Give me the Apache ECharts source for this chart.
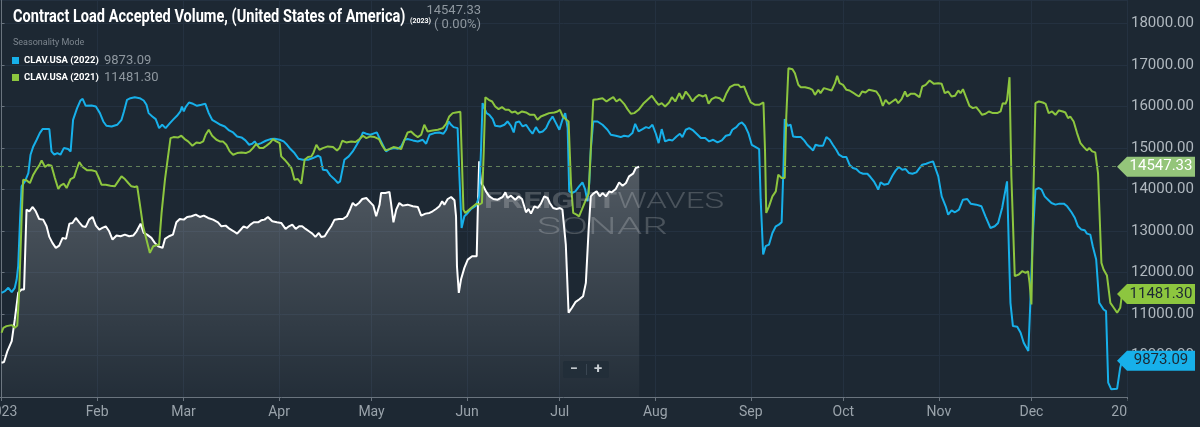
<!DOCTYPE html>
<html>
<head>
<meta charset="utf-8">
<style>
html,body{margin:0;padding:0;background:#1d2833;}
#chart{width:1200px;height:427px;}
</style>
<script src="https://cdn.jsdelivr.net/npm/echarts@6/dist/echarts.min.js"></script>
</head>
<body>
<div id="chart"></div>
<script>
// x axis: day of year (0 = Jan 1), labels at month starts
const monthDays = [0, 31, 59, 90, 120, 151, 181, 212, 243, 273, 304, 334, 365]
const monthNames = ['2023', 'Feb', 'Mar', 'Apr', 'May', 'Jun', 'Jul', 'Aug', 'Sep', 'Oct', 'Nov', 'Dec', '2024']

// 2023 (white, area)
const days2023 = [0,0.8,1.9,3.3,4.3,5.4,6.5,7.3,8.1,9.0,10.1,11.1,12.2,13.5,14.6,15.5,16.5,17.6,18.7,19.8,20.9,22.0,23.0,24.1,25.2,26.3,27.3,28.4,29.5,30.6,31.7,32.7,33.8,34.9,36.0,37.3,38.6,40.0,41.4,42.7,43.8,45.1,46.1,47.2,48.6,49.7,50.8,52.2,53.0,54.3,55.6,56.7,57.8,59.1,60.2,61.6,63.0,64.3,65.6,67.0,68.6,70.2,71.3,72.7,74.0,75.3,76.4,77.4,78.5,79.6,80.7,81.8,83.2,84.2,85.3,86.4,87.8,89.3,90.7,92.1,93.2,94.3,95.4,96.5,97.5,98.6,99.7,100.8,101.8,102.9,103.7,104.8,105.8,106.9,108.0,109.4,110.7,112.0,113.1,113.9,114.8,115.9,117.0,118.3,119.6,120.6,121.5,122.6,123.1,124.5,125.8,126.3,127.1,128.0,129.0,130.1,131.7,133.4,135.0,136.1,137.5,138.8,139.8,140.9,142.0,142.9,143.6,144.7,145.8,146.9,147.4,147.7,148.3,149.0,150.1,151.2,152.6,154.1,154.4,154.9,155.5,156.3,157.1,158.2,159.5,160.9,162.5,163.4,164.1,165.2,166.6,167.7,168.8,170.1,170.9,171.7,172.8,173.9,174.9,176.0,177.1,177.8,178.9,180.0,181.1,181.9,183.0,183.9,185.0,186.1,187.3,188.6,189.5,190.4,191.1,191.9,193.0,194.0,194.9,196.0,197.1,197.9,199.2,200.3,201.4,202.5,203.5,204.8,205.7,206.8]
const vals2023 = [9826,9842,10106,10347,10868,11509,11589,11589,13512,13472,13576,13472,13287,13271,13111,12855,12711,12590,12646,12831,12807,13175,13191,13311,13207,13111,13095,13271,13336,13127,13031,13071,13111,12991,12791,12887,12871,12911,12871,12887,12991,13175,12951,12911,12831,12711,12630,12590,12807,12871,12911,13207,13287,13271,13336,13352,13392,13336,13368,13311,13271,13207,13111,13127,13047,12991,12935,13015,13111,13071,13151,13207,13207,13255,13271,13336,13231,13207,13191,13047,13111,13151,13047,13111,13111,13047,12991,12935,12855,12951,12855,12871,12991,13111,13271,13287,13287,13352,13528,13672,13608,13672,13768,13792,13688,13608,13352,13632,13913,13913,13940,13672,13207,13512,13672,13608,13632,13592,13576,13367,13416,13432,13472,13528,13592,13712,13632,13768,13816,13736,13351,12149,11508,11829,12109,12309,12390,12390,13351,14674,14153,14073,13952,13832,13768,13752,13816,13928,13792,13848,13752,13832,13768,13448,13528,13416,13592,13552,13656,13832,13792,13672,13552,13528,13552,13512,12670,11028,11148,11284,11348,11428,11749,13031,13832,13896,13952,13832,13912,13832,13952,13928,14009,14169,14089,14153,14313,14377,14514,14547.33]

// 2022 (blue)
const days2022 = [0,1.1,2.2,3.3,4.3,4.9,5.4,6.0,6.5,7.6,8.7,9.4,10.3,11.4,12.4,13.3,15.5,16.2,17.1,18.1,19.1,20.2,21.6,22.4,23.2,24.5,25.6,26.3,27.3,29.2,30.6,31.9,33.0,34.0,35.7,37.5,38.9,39.7,40.7,41.8,43.2,44.8,46.1,47.0,47.7,48.9,50.0,51.1,52.1,53.2,54.6,55.8,56.9,58.0,58.5,59.1,59.7,60.8,62.1,63.4,64.8,66.1,67.2,68.3,69.7,71.0,72.4,73.8,75.1,76.4,77.8,79.1,80.3,81.3,82.1,82.8,84.2,85.7,87.2,88.6,90.2,91.5,92.6,93.7,95.0,96.3,97.7,99.4,101.0,102.6,103.4,104.2,105.5,106.6,107.8,109.1,109.8,111.2,112.6,113.9,115.2,116.6,117.2,118.3,119.6,121.0,121.7,122.8,123.9,124.7,
  125.8,127.4,128.5,129.6,130.7,131.7,133.4,135.0,136.6,137.7,138.8,140.4,142.0,143.3,144.2,145.0,145.8,146.6,147.9,148.5,149.2,150.1,151.2,152.3,153.9,154.9,155.5,156.0,156.6,157.3,158.2,159.3,160.1,161.7,163.1,164.1,165.2,166.1,166.8,167.9,169.0,170.1,171.2,172.2,173.3,174.4,175.5,176.6,177.6,178.7,179.8,180.9,181.9,182.8,183.6,184.1,185.0,186.1,187.3,188.4,189.3,190.0,190.6,191.1,191.9,193.3,194.9,196.5,197.6,199.2,200.8,201.9,203.3,204.6,205.5,206.6,
  207.9,209.0,210.0,211.1,212.2,213.1,214.1,215.2,216.5,217.6,218.9,220.0,220.8,221.9,223.0,224.3,225.4,226.8,228.2,229.5,230.8,232.2,233.6,234.9,236.2,237.0,238.3,239.2,240.1,241.1,242.2,243.3,244.6,245.7,246.2,247.0,247.8,248.9,250.0,251.1,252.1,253.0,253.6,254.0,254.9,255.9,256.7,257.8,259.2,260.3,261.3,262.4,263.2,264.0,265.1,266.4,267.5,268.6,269.6,270.7,271.6,272.9,274.0,275.0,276.1,277.2,278.3,279.4,280.8,281.8,282.9,283.7,284.3,285.1,286.2,287.6,
  288.9,290.0,291.0,292.1,293.2,294.3,295.4,296.7,297.7,298.6,299.9,301.0,302.1,302.7,303.8,304.9,306.2,307.0,308.1,309.2,310.5,311.8,313.2,314.3,316.1,317.8,319.1,320.7,322.1,323.2,324.5,325.6,326.1,326.7,327.2,328.0,329.4,330.5,331.5,333.0,333.7,334.4,335.3,336.4,337.3,338.3,339.4,340.5,341.8,343.1,344.5,345.6,347.0,348.1,349.1,350.2,351.3,352.0,353.1,353.9,355.0,356.0,357.4,358.2,358.9,359.9,361.8,362.8,363.4]
const vals2022 = [11509,11549,11629,11525,11629,11829,12150,13271,14073,14193,14393,14834,15034,15195,15355,15451,15451,14914,14834,14874,14834,14994,14970,14914,15675,15956,16140,16180,16012,16020,15996,15836,15635,15531,15515,15555,15675,15876,16156,16196,16220,16196,16140,16036,15836,15756,15691,15475,15555,15475,15595,15691,15772,15876,15996,15876,15980,16092,16060,16012,16036,16060,15836,15675,15611,15555,15515,15419,15371,15275,15251,15179,15074,15098,15155,15074,15115,15171,15211,15219,15195,15155,15074,14970,14874,14738,14714,14714,14754,14810,14778,14474,14458,14337,14257,14153,14193,14714,14794,14914,15074,15259,15371,15339,15315,15355,15371,15195,15034,14914,
  14970,14994,14978,15034,15194,15211,15179,15154,15194,15098,15315,15355,15371,15339,15435,15635,15555,15499,15475,14313,13071,13351,13432,13528,13608,13832,14954,16076,15956,15836,15796,15691,15531,15515,15555,15635,15531,15371,15611,15635,15515,15555,15435,15339,15499,15371,15395,15475,15635,15756,15595,15435,15675,15836,15475,13952,13912,13952,14073,14169,13992,13712,14153,14954,15635,15635,15555,15435,15315,15291,15259,15291,15275,15355,15579,15395,
  15451,15499,15475,15555,15339,15114,15451,15154,15194,15179,15275,15339,15259,15435,15475,15419,15339,15235,15235,15154,15194,15130,15179,15291,15315,15435,15499,15579,15611,15531,15355,15074,15018,14970,13752,12430,12631,12671,12951,13111,13151,13207,14553,15691,15531,15555,15275,15259,15259,15179,15074,14994,14938,15074,15050,15050,15259,15194,15074,14954,14834,14778,14778,14593,14513,14489,14409,14377,14377,14297,14193,14089,13992,14169,14113,14137,
  14329,14457,14537,14473,14489,14393,14377,14409,14513,14593,14617,14650,14674,14633,14313,13832,13592,13392,13496,13448,13512,13752,13768,13656,13632,13592,13351,13071,13111,13191,13552,13993,14193,12550,11268,10707,10691,10547,10306,10106,11348,12790,13993,14033,13993,13832,13752,13672,13632,13656,13656,13592,13448,13311,13111,13031,13015,12935,12911,12630,12310,11268,11108,11068,9345,9185,9201,9706,9873.09]

// 2021 (green)
const days2021 = [0,0.6,1.6,3.3,4.3,5.1,5.7,6.5,7.0,8.1,9.2,10.3,11.4,12.2,13.0,14.1,15.1,16.2,17.3,18.4,19.1,20.2,21.1,22.4,23.5,24.3,25.2,26.3,27.8,29.2,30.6,31.7,32.4,33.8,35.3,36.7,37.8,38.9,40.0,41.1,42.1,43.2,44.0,44.8,45.9,47.0,48.1,49.2,50.2,51.1,51.9,53.0,54.0,54.8,55.8,57.3,58.3,59.4,60.5,61.9,63.2,64.3,65.4,66.2,67.2,68.3,69.7,70.8,71.8,72.9,74.0,75.1,76.4,77.8,79.2,80.5,81.5,82.6,83.7,84.8,85.9,87.2,88.0,89.1,90.2,90.7,91.8,92.9,94.0,95.0,96.1,97.2,98.3,99.4,100.5,101.2,102.1,103.1,104.2,105.8,107.5,108.8,109.6,110.5,111.8,113.4,114.8,116.1,117.2,118.3,119.6,121.0,122.4,123.5,124.5,
  125.8,127.1,128.5,129.6,130.7,131.7,132.8,133.9,135.0,136.1,137.1,138.2,139.8,141.5,143.1,144.2,145.2,146.3,147.4,148.8,149.3,149.8,150.4,151.7,153.0,154.1,154.9,155.8,156.4,156.9,158.0,159.1,160.1,161.2,162.3,163.4,164.5,165.5,166.6,167.4,168.8,170.1,171.4,172.8,173.8,174.9,176.3,177.6,179.3,180.3,181.1,182.0,183.2,183.9,184.7,185.4,186.5,187.3,188.2,189.3,190.4,191.1,191.9,193.3,194.9,196.2,197.3,198.4,199.4,200.5,201.9,203.0,204.1,205.2,206.6,
  208.1,209.5,210.9,212.2,213.1,214.1,215.2,216.5,217.4,218.5,219.8,220.8,221.9,223.0,224.1,225.2,226.2,227.5,228.4,229.3,230.3,231.6,232.9,234.0,235.1,236.2,237.6,239.0,239.7,240.8,241.9,243.0,244.4,245.7,247.1,247.6,248.0,248.9,250.0,251.1,251.9,253.0,254.0,254.5,255.2,256.5,257.3,258.4,259.2,260.6,261.9,263.0,263.8,264.9,265.6,266.7,267.8,269.2,270.3,271.0,271.8,272.9,274.0,275.0,276.1,277.2,278.1,279.1,280.2,281.3,282.4,283.7,284.8,285.8,286.7,
  287.8,288.9,290.0,290.8,291.9,293.0,293.7,294.8,296.2,297.7,298.6,299.7,301.0,302.4,303.8,304.9,305.9,307.0,308.1,309.2,310.3,311.0,311.8,312.8,313.9,315.0,316.1,317.2,318.0,319.1,320.2,321.5,322.9,324.0,324.7,325.6,326.1,326.9,327.5,328.6,329.9,331.0,332.1,332.9,333.4,334.0,334.6,335.3,336.4,337.7,338.6,339.6,340.7,341.8,342.9,344.2,345.0,345.9,346.6,347.7,348.8,349.9,351.0,352.0,352.8,353.7,354.7,355.6,356.7,357.4,358.5,359.6,360.7,361.8,362.8,363.4]
const vals2021 = [10547,10667,10707,10731,10667,10723,11509,13271,14233,14217,14153,14353,14489,14570,14698,14538,14594,14570,14273,14009,14089,14137,14033,14249,14289,14473,14658,14538,14458,14458,14433,14249,14113,14113,14089,14073,14193,14313,14249,14153,14073,14057,14073,13672,13111,12791,12470,12630,12654,12670,13432,14233,14794,15235,15259,15251,15291,15211,15155,15050,15131,15115,15155,15315,15435,15291,15195,15155,15155,15074,14914,14834,14874,14890,14874,14914,14994,15098,14994,14994,15050,15131,15211,15155,15115,14794,14714,14618,14514,14233,14249,14137,14714,14778,14794,14890,15074,14954,14994,15034,15018,14938,14994,15171,15131,15155,15139,15211,15291,15235,15275,15259,15211,15050,14938,
  14970,15018,14994,14970,15194,15371,15395,15315,15259,15315,15555,15395,15419,15435,15475,15579,15756,15836,15852,15868,14714,13512,13432,13512,13592,13656,13632,13672,14954,16220,16156,16116,15996,15932,15980,15916,15916,15852,15876,15820,15876,15852,15796,15796,15675,15756,15796,15836,15852,15876,15916,15756,15675,15635,14113,13432,13392,13351,13512,13712,13896,14954,16156,16172,16196,16116,16172,16220,16116,16172,16060,15932,15820,15836,15916,
  16060,16156,16252,16116,16036,16076,15996,16092,16220,16116,16316,16172,16356,16252,16116,16220,16276,16236,16276,16060,16172,16220,16196,16116,16316,16461,16517,16517,16461,16477,16276,16092,16036,16036,16092,14954,13432,13592,13832,13952,14353,14273,14273,15756,16917,16893,16797,16517,16461,16461,16437,16397,16276,16397,16317,16437,16413,16381,16557,16733,16557,16517,16397,16381,16332,16276,16236,16356,16332,16397,16381,16356,16236,16012,16156,
  16060,16116,16172,16076,16172,16357,16236,16300,16300,16220,16477,16517,16621,16541,16557,16541,16316,16357,16236,16252,16381,16316,16413,16220,16012,15956,15980,15876,15796,15820,15876,15836,15836,15876,16076,16060,16156,16701,14313,11909,11949,12029,11989,12029,11749,11228,13752,16076,16116,16092,16060,15836,15876,15796,15900,15876,15852,15715,15756,15635,15355,15114,15018,14938,14994,14914,14890,14393,12230,12069,11925,11268,11148,11028,11148,11481.30]

const yTicks = { min: 9000, max: 18560, step: 1000 }

const pair = (ds, vs) => ds.map((d, i) => [d, vs[i]])
const last = arr => arr[arr.length - 1]

// 右侧价格标签
function tag(value, bg, fg) {
  return {
    symbol: 'path://M0,10 L10,0 L78,0 L78,20 L10,20 Z',
    symbolSize: [78, 20],
    symbolKeepAspect: false,
    symbolOffset: [29, 0],
    data: [{
      coord: [365, value],
      itemStyle: { color: bg },
      label: {
        show: true,
        position: 'inside',
        offset: [5, 0],
        formatter: value.toFixed(2),
        color: fg,
        fontSize: 15,
        fontFamily: 'Roboto'
      }
    }]
  }
}

const myChart = echarts.init(document.getElementById('chart'))

const option = {
  backgroundColor: '#1d2833',
  animation: false,
  textStyle: { fontFamily: 'Roboto' },
  grid: { left: 0, right: 73, top: 0, bottom: 30, containLabel: false, outerBoundsMode: 'none' },
  legend: {
    data: ['CLAV.USA (2022)', 'CLAV.USA (2021)'],
    orient: 'vertical',
    left: 7,
    top: 49,
    itemWidth: 7,
    itemHeight: 7,
    itemGap: 4,
    icon: 'rect',
    formatter: name => {
      const v = name.indexOf('2022') > 0 ? last(vals2022) : last(vals2021)
      return '{n|' + name + '}{v|' + v.toFixed(2) + '}'
    },
    textStyle: {
      rich: {
        n: { color: '#ffffff', fontWeight: 'bold', fontSize: 9.5, width: 80, lineHeight: 15 },
        v: { color: '#8e979f', fontSize: 13, lineHeight: 15 }
      }
    }
  },
  xAxis: {
    type: 'value',
    min: -0.5,
    max: 365,
    axisLine: { show: true, lineStyle: { color: '#6a747e', width: 1 } },
    axisTick: { show: true, length: 4, customValues: monthDays, lineStyle: { color: '#6a747e' } },
    splitLine: { show: true, lineStyle: { color: '#243140', width: 1 } },
    axisLabel: {
      customValues: monthDays,
      color: '#9aa3ab',
      fontSize: 14,
      margin: 8,
      formatter: v => monthNames[monthDays.indexOf(v)]
    }
  },
  yAxis: {
    type: 'value',
    position: 'right',
    min: yTicks.min,
    max: yTicks.max,
    interval: yTicks.step,
    axisLine: { show: true, lineStyle: { color: '#6a747e' } },
    axisTick: { show: true, length: 3, lineStyle: { color: '#6a747e' } },
    splitLine: { show: true, lineStyle: { color: '#243140' } },
    axisLabel: {
      color: '#b0b8bf',
      fontSize: 15,
      margin: 4,
      showMinLabel: false,
      showMaxLabel: false,
      formatter: v => v.toFixed(2)
    }
  },
  series: [
    {
      name: 'CLAV.USA (2023)',
      type: 'line',
      data: pair(days2023, vals2023),
      showSymbol: false,
      lineStyle: { color: '#ffffff', width: 2 },
      itemStyle: { color: '#ffffff' },
      areaStyle: {
        color: new echarts.graphic.LinearGradient(0, 0, 0, 1, [
          { offset: 0, color: 'rgba(255,255,255,0.34)' },
          { offset: 1, color: 'rgba(255,255,255,0.04)' }
        ]),
        origin: 'start'
      },
      markLine: {
        silent: true,
        symbol: 'none',
        label: { show: false },
        lineStyle: { type: [4, 4], color: '#62805a', width: 1 },
        data: [{ yAxis: last(vals2023) }]
      },
      markPoint: tag(last(vals2023), '#94c57a', '#ffffff')
    },
    {
      name: 'CLAV.USA (2022)',
      type: 'line',
      data: pair(days2022, vals2022),
      showSymbol: false,
      lineStyle: { color: '#17b0ea', width: 2 },
      itemStyle: { color: '#17b0ea' },
      markPoint: tag(last(vals2022), '#17b0ea', '#1d2833')
    },
    {
      name: 'CLAV.USA (2021)',
      type: 'line',
      data: pair(days2021, vals2021),
      showSymbol: false,
      lineStyle: { color: '#8dc63f', width: 2 },
      itemStyle: { color: '#8dc63f' },
      markPoint: tag(last(vals2021), '#8dc63f', '#1d2833')
    }
  ],
  graphic: [
    {
      type: 'text', x: 13, y: 17, scaleX: 0.81, z: 20,
      style: { text: 'Contract Load Accepted Volume, (United States of America)', fill: '#ffffff', font: 'bold 18px Roboto', verticalAlign: 'middle' }
    },
    {
      type: 'text', x: 410, y: 21, z: 20,
      style: { text: '(2023)', fill: '#ffffff', font: 'bold 7px Roboto', verticalAlign: 'middle' }
    },
    {
      type: 'text', x: 481, y: 11, z: 20,
      style: { text: last(vals2023).toFixed(2), fill: '#8e979f', font: '13px Roboto', align: 'right', verticalAlign: 'middle' }
    },
    {
      type: 'text', x: 481, y: 25, z: 20,
      style: { text: '( 0.00%)', fill: '#8e979f', font: '13px Roboto', align: 'right', verticalAlign: 'middle' }
    },
    {
      type: 'text', x: 13, y: 43, z: 20,
      style: { text: 'Seasonality Mode', fill: '#7c858e', font: '9px Roboto', verticalAlign: 'middle' }
    },
    // 水印
    {
      type: 'text', x: 484, y: 202, scaleX: 1.5, z: 5, silent: true,
      style: {
        text: '{b|FREIGHT}{l|WAVES}',
        verticalAlign: 'middle',
        rich: {
          b: { fill: 'rgba(255,255,255,0.2)', font: 'bold 22px Roboto' },
          l: { fill: 'rgba(255,255,255,0.2)', font: '300 22px Roboto' }
        }
      }
    },
    {
      type: 'text', x: 537, y: 228, scaleX: 1.75, z: 5, silent: true,
      style: { text: 'SONAR', fill: 'rgba(255,255,255,0.2)', font: '300 23px Roboto', verticalAlign: 'middle' }
    },
    // 缩放按钮
    {
      type: 'rect', z: 30, shape: { x: 563, y: 361, width: 46, height: 17, r: 2 },
      style: { fill: '#222e39' }
    },
    {
      type: 'rect', z: 31, shape: { x: 586, y: 364, width: 1, height: 11 },
      style: { fill: '#3a4652' }
    },
    {
      type: 'text', x: 574, y: 369.5, z: 31,
      style: { text: '−', fill: '#c8ced3', font: 'bold 14px Roboto', align: 'center', verticalAlign: 'middle' }
    },
    {
      type: 'text', x: 598, y: 369.5, z: 31,
      style: { text: '+', fill: '#c8ced3', font: 'bold 15px Roboto', align: 'center', verticalAlign: 'middle' }
    },
    // 右下角遮挡年份标签
    {
      type: 'rect', z: 100, shape: { x: 1127.5, y: 399, width: 73, height: 28 },
      style: { fill: '#1d2833' }
    }
  ]
}

myChart.setOption(option)
</script>
</body>
</html>
